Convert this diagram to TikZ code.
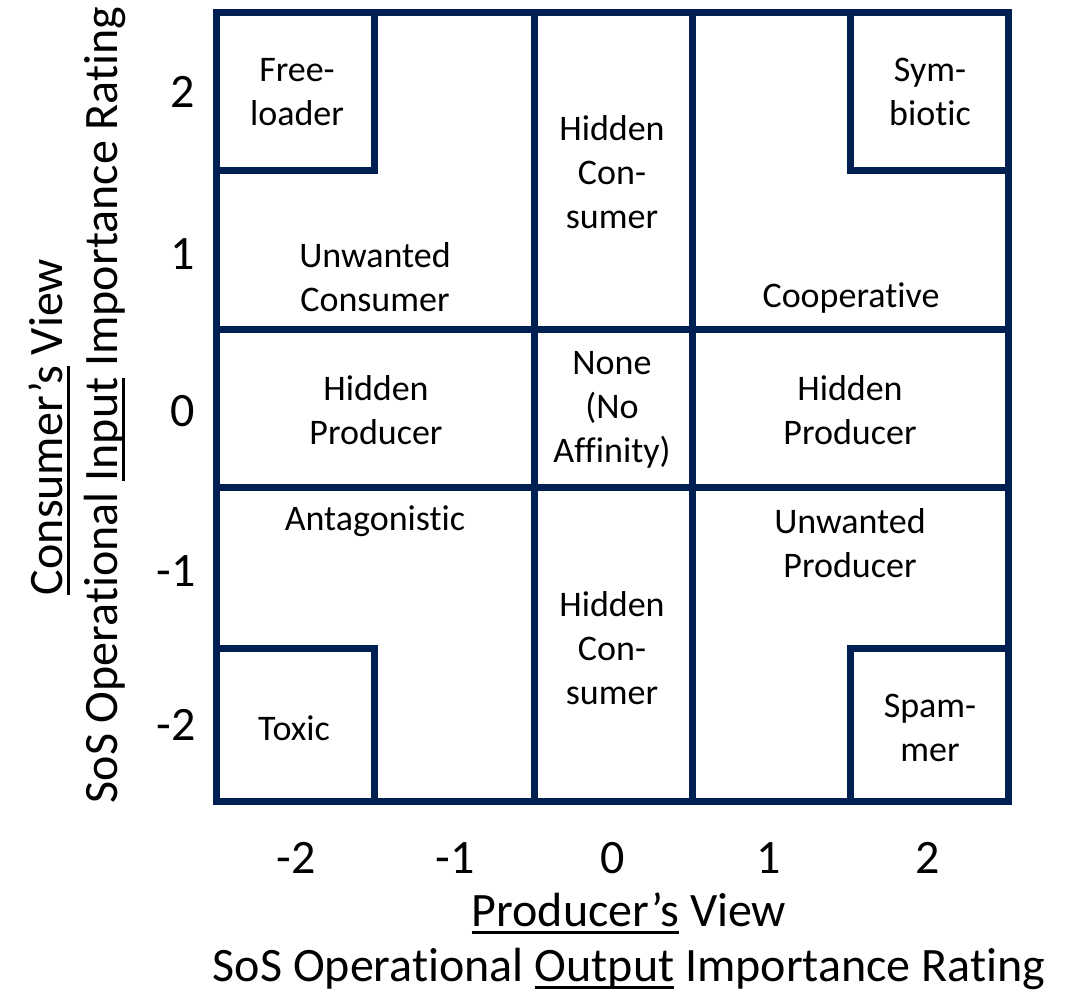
\documentclass[tikz,border=0pt]{standalone}
\usepackage{fontspec}
\setmainfont{Carlito}[Ligatures=NoCommon]
\definecolor{gridnavy}{HTML}{001F52}
\newsavebox{\ulbox}
% underline at a fixed depth below the baseline
\newcommand{\undl}[1]{\sbox{\ulbox}{#1}\rlap{\rule[-8pt]{\wd\ulbox}{3pt}}\usebox{\ulbox}}

\begin{document}
\begin{tikzpicture}[x=1pt,y=-1pt,
  gridline/.style={draw=gridnavy,line width=7pt,line join=miter},
  cell/.style={align=center,font=\fontsize{36}{44}\selectfont,inner sep=0pt},
  tick/.style={font=\fontsize{48}{58}\selectfont,inner sep=0pt},
  axistitle/.style={font=\fontsize{48}{58}\selectfont,inner sep=0pt}]
\useasboundingbox (0,0) rectangle (1071,993);
\fill[white] (0,0) rectangle (1071,993);

% grid columns and rows
\def\xa{216.5}\def\xb{374.5}\def\xc{534}\def\xd{692}\def\xe{850}\def\xf{1008.5}
\def\ya{12}\def\yb{170}\def\yc{329.5}\def\yd{487.5}\def\ye{648}\def\yf{801.5}

% outer frame
\draw[gridline] (\xa,\ya) rectangle (\xf,\yf);
% full-length dividers
\draw[gridline] (\xc,\ya) -- (\xc,\yf);
\draw[gridline] (\xd,\ya) -- (\xd,\yf);
\draw[gridline] (\xa,\yc) -- (\xf,\yc);
\draw[gridline] (\xa,\yd) -- (\xf,\yd);
% corner boxes
\draw[gridline] (\xa,\yb) -- (\xb,\yb) -- (\xb,\ya);
\draw[gridline] (\xf,\yb) -- (\xe,\yb) -- (\xe,\ya);
\draw[gridline] (\xa,\ye) -- (\xb,\ye) -- (\xb,\yf);
\draw[gridline] (\xf,\ye) -- (\xe,\ye) -- (\xe,\yf);

% cell labels
\node[cell] (freeloader) at (297,92) {Free-\\loader};
\node[cell] (symbiotic) at (930,92) {Sym-\\biotic};
\node[cell] (hcTop) at (612,172) {Hidden\\Con-\\sumer};
\node[cell] (uc) at (375,277) {Unwanted\\Consumer};
\node[cell] (coop) at (851,298) {Cooperative};
\node[cell] (hpL) at (376,410) {Hidden\\Producer};
\node[cell] (none) at (612,410) {None\\(No\\Affinity)};
\node[cell] (hpR) at (850,410) {Hidden\\Producer};
\node[cell] (antag) at (375,521) {Antagonistic};
\node[cell] (up) at (850,543) {Unwanted\\Producer};
\node[cell] (hcBot) at (612,648) {Hidden\\Con-\\sumer};
\node[cell] (toxic) at (294,728) {Toxic};
\node[cell] (spammer) at (930,728) {Spam-\\mer};

% horizontal axis ticks
\node[tick] (px1) at (296,858) {-2};
\node[tick] (px2) at (455,858) {-1};
\node[tick] (px3) at (613,858) {0};
\node[tick] (px4) at (769,858) {1};
\node[tick] (px5) at (928,858) {2};
% vertical axis ticks
\node[tick] (cy1) at (183,92) {2};
\node[tick] (cy2) at (183,254) {1};
\node[tick] (cy3) at (183,411) {0};
\node[tick] (cy4) at (176,571) {-1};
\node[tick] (cy5) at (176,725) {-2};

% axis titles
\node[axistitle,anchor=base] (prodview) at (629,926) {\undl{Producer’s} View};
\node[axistitle,anchor=base] (outrating) at (629,981) {SoS Operational \undl{Output} Importance Rating};
\node[axistitle,anchor=base,rotate=90] (consview) at (62,427) {\undl{Consumer’s} View};
\node[axistitle,anchor=base,rotate=90] (inrating) at (117,405) {SoS Operational \undl{Input} Importance Rating};
\end{tikzpicture}
\end{document}
